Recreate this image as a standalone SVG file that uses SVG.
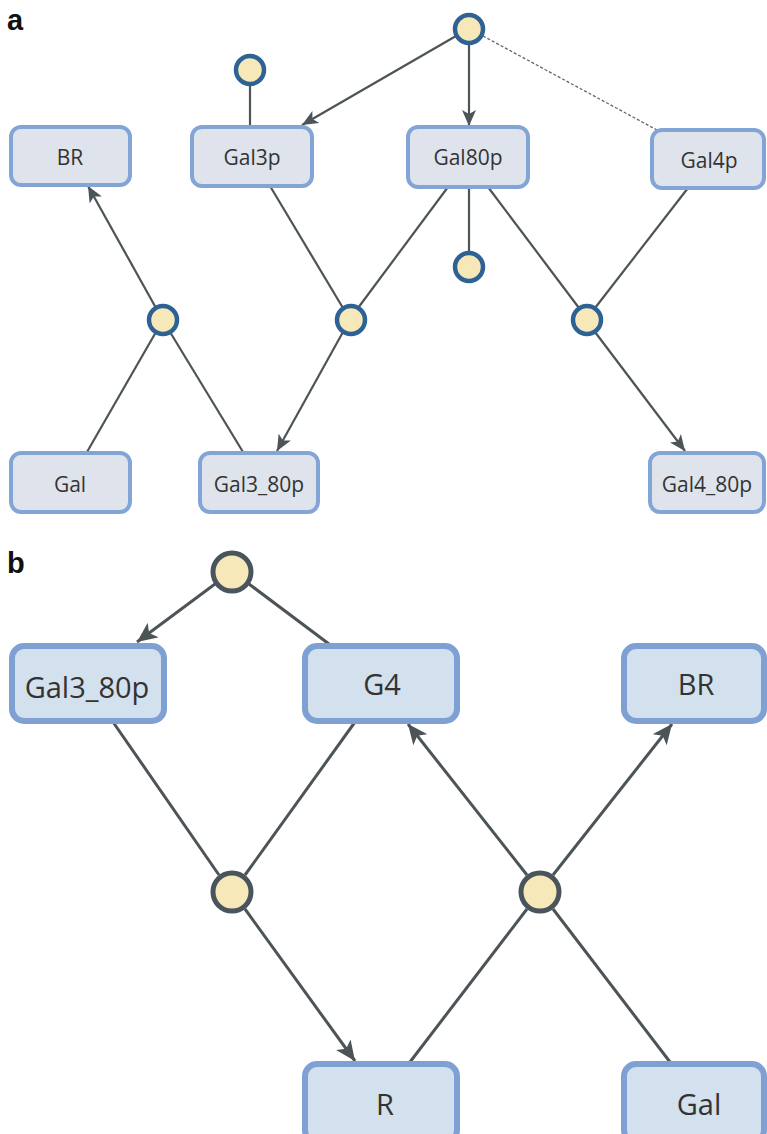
<svg xmlns="http://www.w3.org/2000/svg" width="767" height="1134" viewBox="0 0 767 1134">
<defs>
<style>
.lbl{font-family:"Liberation Sans",Arial,sans-serif;font-weight:bold;font-size:29px;fill:#111}
.na rect{fill:#dfe3eb;stroke:#82a5d6;stroke-width:4}
.na text{font-family:"Open Sans","Noto Sans",sans-serif;font-size:21px;fill:#333;text-anchor:middle;dominant-baseline:central}
.nb rect{fill:#d3e0ed;stroke:#7ea0d3;stroke-width:6}
.nb text{font-family:"Open Sans","Noto Sans",sans-serif;font-size:29px;fill:#333;text-anchor:middle;dominant-baseline:central}
.ca{fill:#f6e8b9;stroke:#2f6294;stroke-width:4.5}
.cb{fill:#f6e8b9;stroke:#49545d;stroke-width:5}
.ea{stroke:#4c5458;stroke-width:2.2;fill:none}
.eb{stroke:#4c5458;stroke-width:3;fill:none}
</style>
<marker id="arrA" markerUnits="userSpaceOnUse" markerWidth="18" markerHeight="14" refX="16" refY="7" orient="auto">
<path d="M0,0 L16,7 L0,14 L4,7 Z" fill="#4c5458"/>
</marker>
<marker id="arrB" markerUnits="userSpaceOnUse" markerWidth="22" markerHeight="18" refX="20" refY="9" orient="auto">
<path d="M0,0 L20,9 L0,18 L5,9 Z" fill="#4c5458"/>
</marker>
</defs>
<rect width="767" height="1134" fill="#fff"/>
<text class="lbl" x="7" y="30">a</text>
<text class="lbl" x="7" y="573">b</text>

<g id="connectors">
<!-- part a -->
<line class="ea" x1="250" y1="84" x2="250" y2="127"/>
<line class="ea" x1="456" y1="36" x2="302" y2="125" marker-end="url(#arrA)"/>
<line class="ea" x1="469" y1="44" x2="469" y2="126" marker-end="url(#arrA)"/>
<line x1="483" y1="36" x2="657" y2="130" stroke="#666" stroke-width="1.3" stroke-dasharray="3,2"/>
<line class="ea" x1="156" y1="308" x2="88" y2="186" marker-end="url(#arrA)"/>
<line class="ea" x1="87" y1="452" x2="156" y2="332"/>
<line class="ea" x1="243" y1="452" x2="170" y2="332"/>
<line class="ea" x1="270" y1="186" x2="343" y2="308"/>
<line class="ea" x1="448" y1="187" x2="358" y2="308"/>
<line class="ea" x1="343" y1="332" x2="277" y2="451" marker-end="url(#arrA)"/>
<line class="ea" x1="469" y1="187" x2="469" y2="252"/>
<line class="ea" x1="488" y1="187" x2="579" y2="308"/>
<line class="ea" x1="688" y1="188" x2="595" y2="308"/>
<line class="ea" x1="595" y1="332" x2="685" y2="451" marker-end="url(#arrA)"/>
<!-- part b -->
<line class="eb" x1="215" y1="584" x2="137" y2="642" marker-end="url(#arrB)"/>
<line class="eb" x1="249" y1="584" x2="329" y2="644"/>
<line class="eb" x1="113" y1="722" x2="219" y2="875"/>
<line class="eb" x1="355" y1="722" x2="245" y2="875"/>
<line class="eb" x1="245" y1="909" x2="355" y2="1061" marker-end="url(#arrB)"/>
<line class="eb" x1="410" y1="1062" x2="527" y2="909"/>
<line class="eb" x1="527" y1="875" x2="408" y2="724" marker-end="url(#arrB)"/>
<line class="eb" x1="553" y1="875" x2="672" y2="724" marker-end="url(#arrB)"/>
<line class="eb" x1="670" y1="1062" x2="553" y2="909"/>
</g>

<!-- part a nodes -->
<g id="a_BR" class="na"><rect x="11" y="127" width="119" height="58" rx="10"/><text x="70" y="157">BR</text></g>
<g id="a_Gal3p" class="na"><rect x="192" y="127" width="120" height="59" rx="10"/><text x="252" y="157">Gal3p</text></g>
<g id="a_Gal80p" class="na"><rect x="408" y="127" width="120" height="60" rx="10"/><text x="468" y="157">Gal80p</text></g>
<g id="a_Gal4p" class="na"><rect x="652" y="130" width="112" height="58" rx="10"/><text x="709" y="160">Gal4p</text></g>
<g id="a_Gal" class="na"><rect x="11" y="453" width="119" height="59" rx="10"/><text x="70" y="484">Gal</text></g>
<g id="a_Gal3_80p" class="na"><rect x="200" y="453" width="118" height="59" rx="10"/><text x="259" y="484">Gal3_80p</text></g>
<g id="a_Gal4_80p" class="na"><rect x="650" y="453" width="114" height="59" rx="10"/><text x="707" y="484">Gal4_80p</text></g>
<g id="a_c_top"><circle class="ca" cx="469" cy="29" r="14"/></g>
<g id="a_c_gal3p"><circle class="ca" cx="250" cy="70" r="14"/></g>
<g id="a_c_gal80p"><circle class="ca" cx="469" cy="267" r="14"/></g>
<g id="a_c1"><circle class="ca" cx="163" cy="320" r="14"/></g>
<g id="a_c2"><circle class="ca" cx="351" cy="320" r="14"/></g>
<g id="a_c3"><circle class="ca" cx="587" cy="320" r="14"/></g>

<!-- part b nodes -->
<g id="b_Gal3_80p" class="nb"><rect x="12" y="646" width="152" height="75" rx="12"/><text x="87" y="686">Gal3_80p</text></g>
<g id="b_G4" class="nb"><rect x="305" y="646" width="152" height="75" rx="12"/><text x="382" y="683">G4</text></g>
<g id="b_BR" class="nb"><rect x="624" y="646" width="140" height="75" rx="12"/><text x="696" y="683">BR</text></g>
<g id="b_R" class="nb"><rect x="305" y="1064" width="152" height="78" rx="12"/><text x="385" y="1103">R</text></g>
<g id="b_Gal" class="nb"><rect x="624" y="1064" width="140" height="78" rx="12"/><text x="699" y="1103">Gal</text></g>
<g id="b_c_top"><circle class="cb" cx="232" cy="572" r="19"/></g>
<g id="b_c1"><circle class="cb" cx="232" cy="892" r="19"/></g>
<g id="b_c2"><circle class="cb" cx="540" cy="892" r="19"/></g>
</svg>
